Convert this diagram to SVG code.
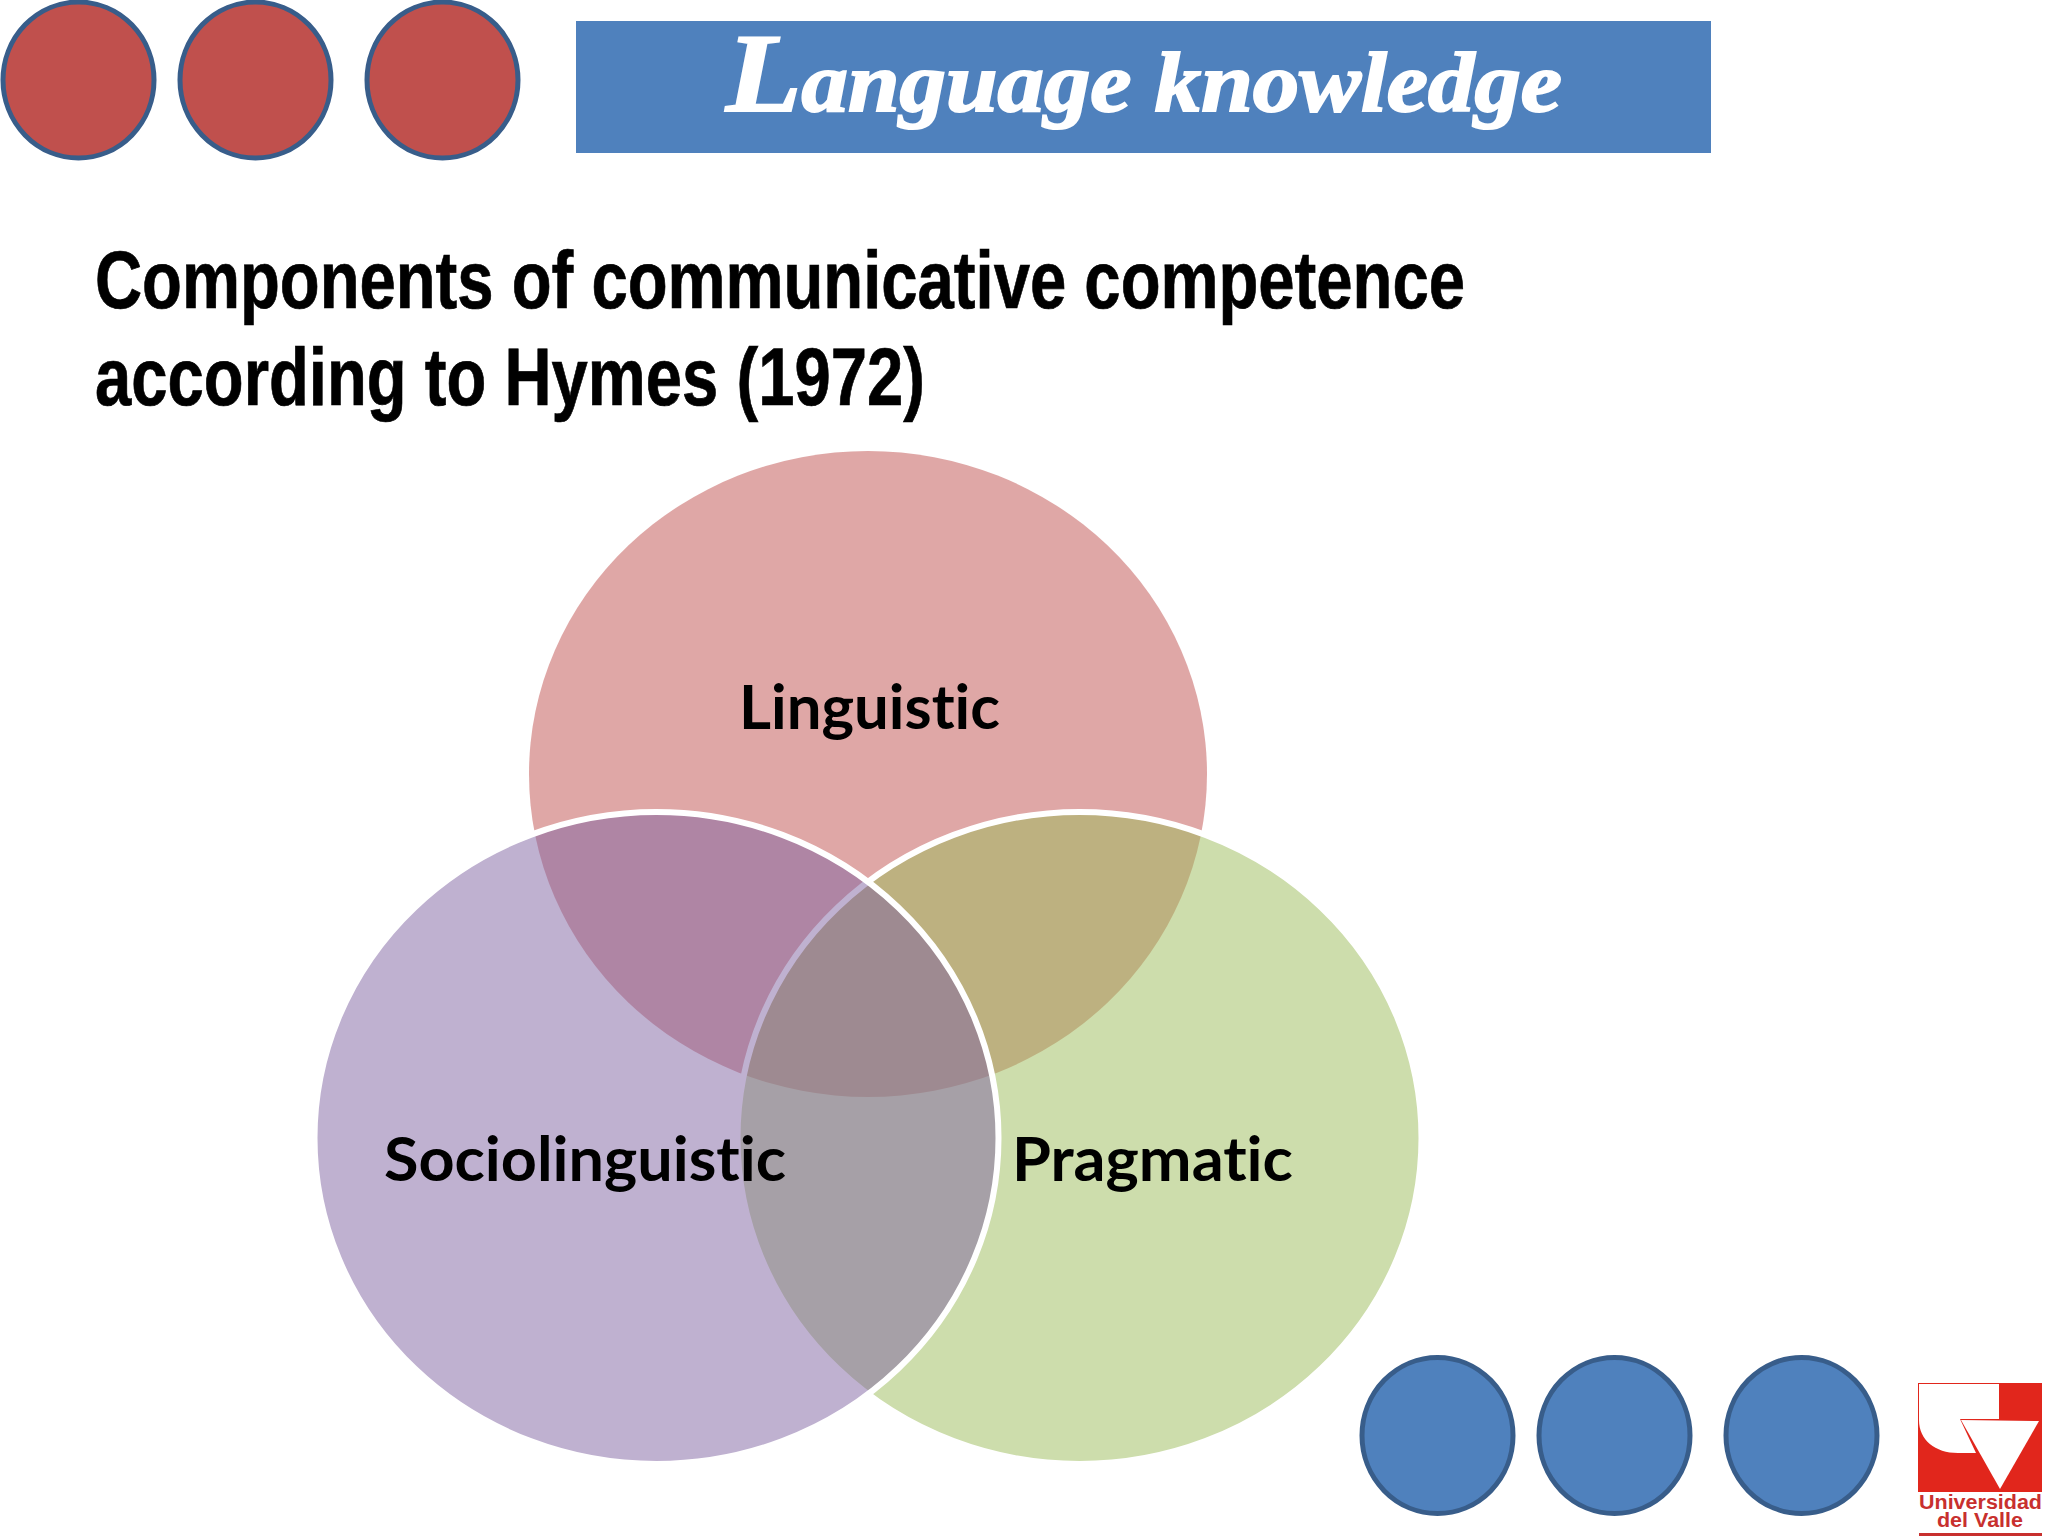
<svg xmlns="http://www.w3.org/2000/svg" width="2048" height="1536" viewBox="0 0 2048 1536">
<style>
.dot{stroke:#385D8A;stroke-width:5}
.red{fill:#C0504D}
.blue{fill:#4F81BD}
.title{font-family:"Liberation Sans",Arial,sans-serif;font-weight:700;font-size:82px;fill:#000;stroke:#000;stroke-width:.7}
.lab{font-family:Lato,"Liberation Sans",sans-serif;font-weight:700;font-size:62px;fill:#000;font-variant-ligatures:none}
.ven{stroke:#fff;stroke-width:6}
.logo{font-family:"Liberation Sans",Arial,sans-serif;font-weight:700;font-size:20px;fill:#C8302E}
</style>
<rect width="2048" height="1536" fill="#fff"/>
<g id="top-dots">
<ellipse class="dot red" cx="78.500" cy="80" rx="75.500" ry="78"/>
<ellipse class="dot red" cx="255.500" cy="80" rx="75.500" ry="78"/>
<ellipse class="dot red" cx="442.500" cy="80" rx="75.500" ry="78"/>
</g>
<g id="banner">
<rect x="576" y="21" width="1135" height="132" class="blue"/>
<text x="726" y="111" textLength="836" lengthAdjust="spacingAndGlyphs" font-family="'Liberation Serif',serif" font-weight="700" font-style="italic" font-size="84" fill="#fff" stroke="#fff" stroke-width="2"><tspan font-size="112">L</tspan>anguage knowledge</text>
</g>
<g id="heading">
<text class="title" x="95" y="308" textLength="1370" lengthAdjust="spacingAndGlyphs">Components of communicative competence</text>
<text class="title" x="95" y="405" textLength="830" lengthAdjust="spacingAndGlyphs">according to Hymes (1972)</text>
</g>
<g id="venn-linguistic">
<ellipse cx="868" cy="774" rx="339" ry="323" fill="#C0504D" fill-opacity=".5"/>
</g>
<g id="venn-pragmatic">
<ellipse class="ven" cx="1079.500" cy="1138" rx="342" ry="326" fill="#9BBB59" fill-opacity=".5"/>
</g>
<g id="venn-sociolinguistic">
<ellipse class="ven" cx="656.500" cy="1138" rx="342" ry="326" fill="#8064A2" fill-opacity=".5"/>
</g>
<g id="venn-labels">
<text class="lab" x="739" y="729" textLength="261" lengthAdjust="spacingAndGlyphs">Linguistic</text>
<text class="lab" x="384" y="1181" textLength="402" lengthAdjust="spacingAndGlyphs">Sociolinguistic</text>
<text class="lab" x="1012" y="1181" textLength="281" lengthAdjust="spacingAndGlyphs">Pragmatic</text>
</g>
<g id="bottom-dots">
<ellipse class="dot blue" cx="1437.500" cy="1435.500" rx="75.500" ry="78"/>
<ellipse class="dot blue" cx="1614.500" cy="1435.500" rx="75.500" ry="78"/>
<ellipse class="dot blue" cx="1801.500" cy="1435.500" rx="75.500" ry="78"/>
</g>
<g id="logo">
<rect x="1918" y="1383" width="124" height="109" fill="#E1261C"/>
<path d="M1919 1384H1999V1419H1960L1976 1453H1958C1935 1453 1919 1440 1919 1420Z" fill="#fff"/>
<path d="M1961 1420L2039 1421L2000 1489Z" fill="#fff"/>
<text class="logo" x="1919" y="1509" textLength="123" lengthAdjust="spacingAndGlyphs">Universidad</text>
<text class="logo" x="1937" y="1527" textLength="86" lengthAdjust="spacingAndGlyphs">del Valle</text>
<rect x="1919" y="1533" width="123" height="3" fill="#C8302E"/>
</g>
</svg>
